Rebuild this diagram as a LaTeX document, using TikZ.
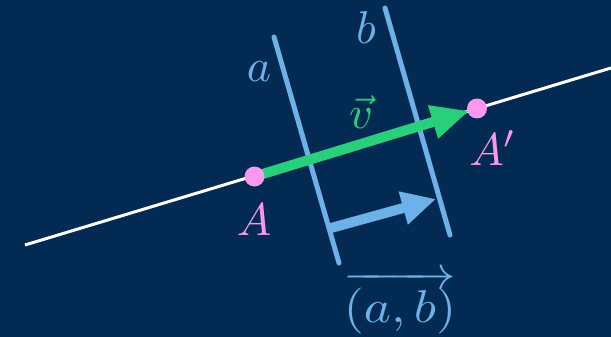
\documentclass[tikz,border=0pt]{standalone}
\usepackage{xcolor}
\usepackage{amsmath}
\usepackage{tikz}
\usetikzlibrary{arrows.meta, positioning}
\definecolor{fondo}{RGB}{3,42,82}
\definecolor{azul}{RGB}{108,178,232}
\definecolor{verde}{RGB}{40,208,124}
\definecolor{rosa}{RGB}{250,152,240}
\pgfdeclarelayer{atras}
\pgfsetlayers{atras,main}
\tikzset{
  recta/.style={draw=white, line width=3pt},
  paralela/.style={draw=azul, line width=5pt, line cap=round},
  punto/.style={circle, fill=rosa, minimum size=20pt, inner sep=0pt},
  flechav/.style={-{Triangle[length=38pt, width=32pt]}, draw=verde, fill=verde,
    line width=10pt, shorten >=8pt},
  flechaab/.style={-{Triangle[length=34pt, width=32pt]}, draw=azul, fill=azul,
    line width=10pt},
  etiq/.style={scale=4.6, inner sep=0pt}
}
\begin{document}
\begin{tikzpicture}[x=1pt, y=-1pt]
  \useasboundingbox (0,0) rectangle (611,337);
  % puntos A y A'
  \node[punto] (A) at (254.5,176.5) {};
  \node[punto] (Ap) at (477,108.5) {};
  \begin{pgfonlayer}{atras}
    \fill[fondo] (0,0) rectangle (611,337);
    % recta
    \coordinate (r1) at (25,245);
    \coordinate (r2) at (611,68);
    \draw[recta] (r1) -- (r2);
    % rectas paralelas a y b
    \coordinate (a1) at (274,37);
    \coordinate (a2) at (339,263);
    \coordinate (b1) at (385,8);
    \coordinate (b2) at (450,235);
    \draw[paralela] (a1) -- (a2);
    \draw[paralela] (b1) -- (b2);
    % vector (a,b)
    \coordinate (u1) at (331,228);
    \coordinate (u2) at (436,199);
    \draw[flechaab] (u1) -- (u2);
    \draw[flechav] (A.center) -- (Ap.center);
  \end{pgfonlayer}
  % etiquetas
  \node[etiq, text=azul] (la) at (259,72) {$a$};
  \node[etiq, text=azul] (lb) at (366,28) {$b$};
  \node[etiq, text=verde] (lv) at (361,112) {$\vec{v}$};
  \node[etiq, text=rosa] (lA) at (254,220) {$A$};
  \node[etiq, text=rosa] (lAp) at (493,148) {$A'$};
  \node[etiq, text=azul, xscale=1.12] (lab) at (400,303) {$\overrightarrow{(a,b)}$};
\end{tikzpicture}
\end{document}
